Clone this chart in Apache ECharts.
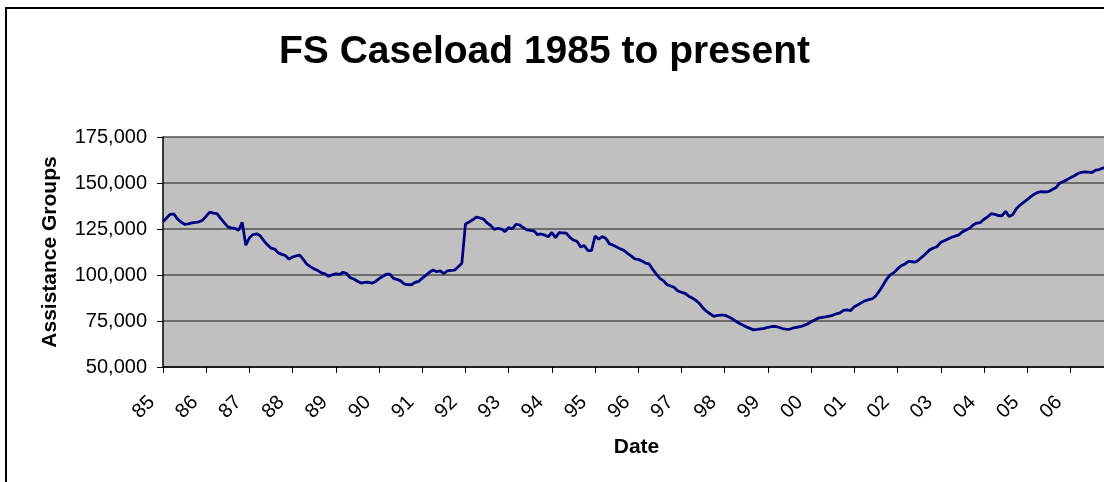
<!DOCTYPE html>
<html>
<head>
<meta charset="utf-8">
<script src="https://cdn.jsdelivr.net/npm/echarts@6/dist/echarts.min.js"></script>
<style>
html,body{margin:0;padding:0;background:#fff;overflow:hidden;}
#chart{width:1120px;height:482px;}
</style>
</head>
<body>
<div id="chart"></div>
<script>
// Year tick labels (one per January)
const yearLabels = ['85','86','87','88','89','90','91','92','93','94','95','96','97','98','99','00','01','02','03','04','05','06'];
const monthNames = ['Jan','Feb','Mar','Apr','May','Jun','Jul','Aug','Sep','Oct','Nov','Dec'];

// Monthly caseload (assistance groups), Jan 1985 - Dec 2006
const caseload = [
129000,131000,133000,133200,130500,128800,127500,127800,128300,128600,128900,129800,
132000,134200,133600,133300,130800,128500,126200,125600,125300,124300,128600,116200,
120200,122000,122400,121300,118600,116400,114600,114100,112000,111200,110600,108600,
109800,110400,110800,108400,105800,104400,103300,102400,101200,100600,99300,100100,
100600,100300,101500,100800,98500,97800,96600,95600,96000,96100,95500,96400,
98000,99200,100400,100500,98200,97600,96800,95100,94800,94700,96000,96500,
98300,99800,101500,102700,101800,102200,100700,102300,102500,102700,104500,106400,
127700,128800,130000,131400,131000,130400,128300,126900,124800,125400,124900,123600,
125800,125000,127500,127300,125800,124500,124300,124000,121900,122300,121700,120800,
123100,120300,123000,122900,122700,120500,119000,118200,115300,116000,113300,113200,
121200,119500,120900,119800,116900,116200,115200,114200,113400,111800,110400,108800,
108500,107600,106500,106000,103000,100500,98200,96800,94700,94000,93200,91300,
90600,90000,88500,87500,86200,84500,82000,80200,78800,77500,78000,78200,
78200,77300,76300,75000,73800,72800,71800,71000,70200,70400,70700,71000,
71600,72000,72100,71600,70900,70600,70500,71200,71600,71900,72600,73400,
74600,75600,76600,77000,77200,77600,78100,78900,79400,80800,81000,80700,
82800,83800,85000,86000,86600,87100,88700,91500,94600,97800,100200,101300,
103300,105000,105900,107400,107200,107000,108400,110100,112000,113800,114700,115500,
117800,118600,119600,120500,121100,121800,123400,124400,125400,127200,128200,128500,
130300,131600,133300,133000,132300,132200,134600,131800,132900,136000,138000,139500,
141000,142600,144000,144900,145300,145100,145400,146500,147500,149900,150800,151700,
152900,153800,155000,155800,156100,155900,155700,157000,157300,158100,158600,159200
];

const yTicks = [50000, 75000, 100000, 125000, 150000, 175000];

const categories = [];
yearLabels.forEach(function (yy) {
  monthNames.forEach(function (m) { categories.push(m + ' ' + yy); });
});

const chart = echarts.init(document.getElementById('chart'), null, {renderer: 'canvas'});
const font = 'Liberation Sans, Arial, Helvetica, sans-serif';

chart.setOption({
  animation: false,
  backgroundColor: '#ffffff',
  title: {
    text: 'FS Caseload 1985 to present',
    left: 274,
    top: 28,
    textStyle: {fontFamily: font, fontSize: 39, fontWeight: 'bold', color: '#000'}
  },
  graphic: [
    {type: 'line', shape: {x1: 6, y1: 8, x2: 6, y2: 482}, style: {stroke: '#000', lineWidth: 2}},
    {type: 'line', shape: {x1: 5, y1: 8, x2: 1120, y2: 8}, style: {stroke: '#000', lineWidth: 2}}
  ],
  grid: {left: 163, top: 137, bottom: 115, right: 10, show: true, backgroundColor: '#c0c0c0', borderWidth: 0},
  xAxis: {
    type: 'category',
    data: categories,
    boundaryGap: false,
    name: 'Date',
    nameLocation: 'middle',
    nameGap: 70,
    nameTextStyle: {fontFamily: font, fontSize: 21, fontWeight: 'bold', color: '#000', verticalAlign: 'top'},
    axisLine: {show: true, lineStyle: {color: '#000', width: 1.5}},
    axisTick: {show: true, interval: 11, length: 6, lineStyle: {color: '#000', width: 1}},
    axisLabel: {
      interval: 11,
      rotate: 45,
      margin: 21,
      padding: [0, 16, 0, 0],
      fontFamily: font,
      fontSize: 20,
      color: '#000',
      formatter: function (v) { return v.split(' ')[1]; }
    },
    splitLine: {show: false}
  },
  yAxis: {
    type: 'value',
    min: 50000,
    max: 175000,
    interval: 25000,
    name: 'Assistance Groups',
    nameLocation: 'middle',
    nameGap: 102,
    nameTextStyle: {fontFamily: font, fontSize: 21, fontWeight: 'bold', color: '#000'},
    axisLine: {show: true, lineStyle: {color: '#000', width: 1.5}},
    axisTick: {show: true, length: 6, lineStyle: {color: '#000', width: 1}},
    axisLabel: {
      margin: 16,
      fontFamily: font,
      fontSize: 20,
      color: '#000',
      customValues: yTicks,
      formatter: function (v) { return v.toLocaleString('en-US'); }
    },
    splitLine: {show: true, lineStyle: {color: '#505050', width: 1.5}}
  },
  series: [{
    type: 'line',
    data: caseload,
    showSymbol: false,
    symbol: 'none',
    lineStyle: {color: '#000080', width: 2.8},
    itemStyle: {color: '#000080'}
  }]
});
</script>
</body>
</html>
